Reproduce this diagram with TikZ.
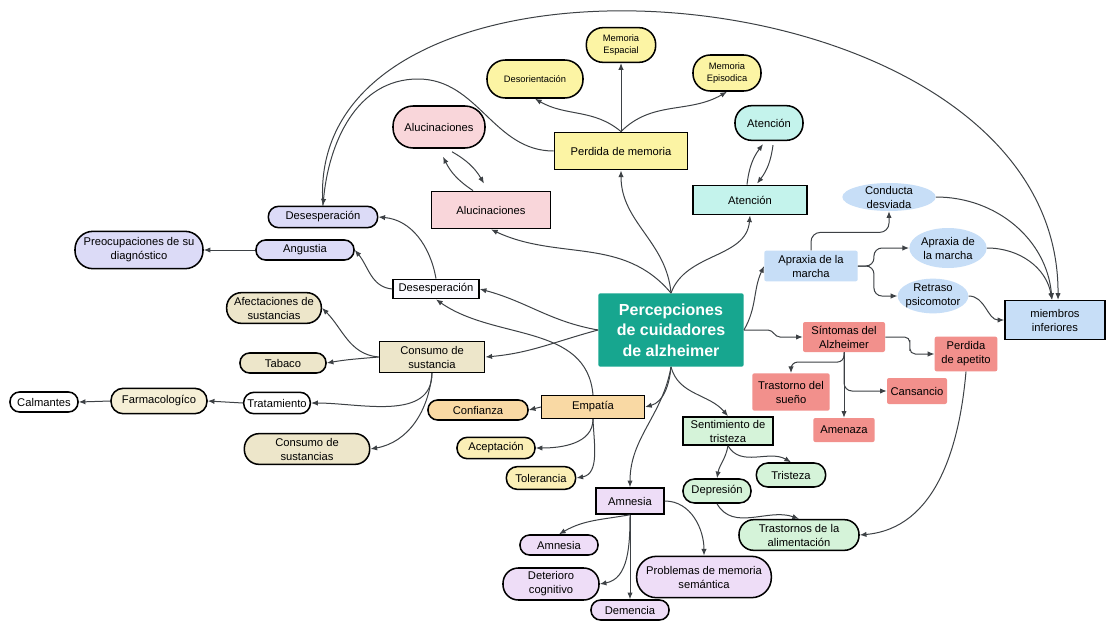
\documentclass[tikz,border=0pt]{standalone}
\usepackage{fontspec}
\setmainfont{Liberation Sans}
\usetikzlibrary{shapes.geometric, arrows.meta, calc}
\definecolor{tealc}{HTML}{17A68F}
\definecolor{yel}{HTML}{FCF4A4}
\definecolor{pnk}{HTML}{F9D6DA}
\definecolor{cyn}{HTML}{C4F3EC}
\definecolor{lav}{HTML}{DCDBF7}
\definecolor{wht}{HTML}{FAFAFF}
\definecolor{bge}{HTML}{EDE6CA}
\definecolor{crm}{HTML}{F6EFD6}
\definecolor{pch}{HTML}{F9D9A4}
\definecolor{ylt}{HTML}{FBEFB6}
\definecolor{prp}{HTML}{EEDDF7}
\definecolor{grn}{HTML}{D5F3D9}
\definecolor{rd}{HTML}{F2908C}
\definecolor{blu}{HTML}{C7DEF7}
\definecolor{edge}{HTML}{3D4145}
\newcommand\lbl{\fontsize{8.4}{10.5}\selectfont}
\newcommand\sml{\fontsize{7}{8.8}\selectfont}
\newcommand\titlefont{\fontsize{12}{15.5}\selectfont\bfseries}
\tikzset{
    pill/.style 2 args={rectangle, draw=black, line width=1.15pt, rounded corners=#2*0.48pt, minimum width=#1pt, minimum height=#2pt, inner sep=1pt, align=center, font=\lbl},
    box/.style 2 args={rectangle, draw=black, line width=1.15pt, minimum width=#1pt, minimum height=#2pt, inner sep=1pt, align=center, font=\lbl},
    flat/.style 2 args={rectangle, rounded corners=1.5pt, minimum width=#1pt, minimum height=#2pt, inner sep=1pt, align=center, font=\lbl},
    blob/.style 2 args={ellipse, fill=blu, minimum width=#1pt, minimum height=#2pt, inner xsep=-2pt, inner ysep=-3pt, align=center, font=\lbl},
    arr/.style={-{Latex[length=5pt,width=4pt]}, draw=edge, line width=0.75pt},
    link/.style={draw=edge, line width=0.75pt},
}

\begin{document}
\begin{tikzpicture}[x=0.75pt, y=0.75pt]
    \path[use as bounding box, fill=white] (0,0) rectangle (1106,-621);

    \node[flat={109}{55}, fill=tealc, text=white, font=\titlefont] (cen) at (671,-330) {Percepciones\\de cuidadores\\de alzheimer};

    \node[box={100}{28}, fill=yel] (perd) at (621,-151) {Perdida de memoria};
    \node[pill={52}{26}, fill=yel, font=\sml] (mesp) at (621,-45) {Memoria\\Espacial};
    \node[pill={72}{28.5}, fill=yel, font=\sml] (deso) at (535,-79) {Desorientación};
    \node[pill={51}{27}, fill=yel, font=\sml] (mepi) at (727,-73) {Memoria\\Episodica};

    \node[pill={69}{31.5}, fill=pnk] (aluA) at (439,-127) {Alucinaciones};
    \node[box={89}{28}, fill=pnk] (aluB) at (491,-210) {Alucinaciones};
    \node[pill={51}{26}, fill=cyn] (ateA) at (769,-123) {Atención};
    \node[box={85.5}{22}, fill=cyn] (ateB) at (750,-200) {Atención};

    \node[pill={82}{16}, fill=lav] (desA) at (323,-217) {Desesperación};
    \node[pill={73.5}{15}, fill=lav] (angu) at (305,-250) {Angustia};
    \node[pill={96}{28}, fill=lav] (preo) at (139,-250) {Preocupaciones de su\\diagnóstico};
    \node[box={64.5}{14.5}, fill=wht] (desB) at (436,-289) {Desesperación};

    \node[pill={71}{23}, fill=bge] (afec) at (274,-308) {Afectaciones de\\sustancias};
    \node[box={79}{23}, fill=bge] (cons) at (432,-357) {Consumo de\\sustancia};
    \node[pill={64.5}{15}, fill=bge] (taba) at (283,-363) {Tabaco};
    \node[pill={50}{16}, fill=white] (trat) at (277,-403) {Tratamiento};
    \node[pill={72}{19}, fill=crm] (farm) at (159,-401) {Farmacologíco};
    \node[pill={51}{15}, fill=white] (calm) at (44,-402) {Calmantes};
    \node[pill={94}{23}, fill=bge] (consB) at (307,-449) {Consumo de\\sustancias};

    \node[box={77}{17}, fill=pch] (empa) at (593,-407) {Empatía};
    \node[pill={75}{15}, fill=pch] (conf) at (478,-410) {Confianza};
    \node[pill={58.5}{16}, fill=ylt] (acep) at (496,-448) {Aceptación};
    \node[pill={52}{17}, fill=ylt] (tole) at (541,-478) {Tolerancia};

    \node[box={51}{19.5}, fill=prp] (amnA) at (630,-501) {Amnesia};
    \node[pill={58.5}{15}, fill=prp] (amnB) at (559,-545) {Amnesia};
    \node[pill={72}{24}, fill=prp] (dete) at (551,-584) {Deterioro\\cognitivo};
    \node[pill={58.5}{15}, fill=prp] (deme) at (630,-610) {Demencia};
    \node[pill={101}{31}, fill=prp] (prob) at (704,-577) {Problemas de memoria\\semántica};

    \node[box={67.5}{21}, fill=grn] (sent) at (728,-431) {Sentimiento de\\tristeza};
    \node[pill={52}{18}, fill=grn] (tris) at (791,-475) {Tristeza};
    \node[pill={51}{18}, fill=grn] (depr) at (717,-491) {Depresión};
    \node[pill={90}{23}, fill=grn] (trst) at (799,-535) {Trastornos de la\\alimentación};

    \node[flat={61.5}{22.5}, fill=rd] (sint) at (844,-337) {Síntomas del\\Alzheimer};
    \node[flat={58}{28}, fill=rd] (tsue) at (791,-392) {Trastorno del\\sueño};
    \node[flat={46}{18}, fill=rd] (amen) at (844,-430) {Amenaza};
    \node[flat={45}{19.5}, fill=rd] (cans) at (917,-391) {Cansancio};
    \node[flat={47}{26}, fill=rd] (pape) at (966,-354) {Perdida\\de apetito};

    \node[flat={70}{23}, fill=blu] (aprA) at (811,-266) {Apraxia de la\\marcha};
    \node[blob={70}{21}] (cond) at (889,-197) {Conducta\\desviada};
    \node[blob={58}{30}] (aprB) at (948,-248) {Apraxia de\\la marcha};
    \node[blob={53}{26}] (retr) at (933,-296) {Retraso\\psicomotor};
    \node[box={75}{29}, fill=blu] (miem) at (1055,-320) {miembros\\inferiores};

    \coordinate (peak) at (418,-79);

    \draw[arr] (cen.north) to[out=95,in=-90] (perd.south);
    \draw[arr] (cen.north) to[out=130,in=-25] (aluB.south);
    \draw[arr] (cen.north) to[out=70,in=-95] (ateB.south);
    \draw[arr] (cen.west) to[out=170,in=-15] (desB.east);
    \draw[arr] (cen.west) to[out=195,in=5] (cons.east);
    \draw[arr] (cen.south) to[out=-95,in=15] (empa.east);
    \draw[arr] (cen.south) to[out=-100,in=90] (amnA.north);
    \draw[arr] (cen.south) to[out=-75,in=130] (sent.north);
    \draw[arr] (cen.east) to[out=60,in=-115] (aprA.west);
    \draw[arr] (cen.east) -- ++(24,0) to[out=0,in=180] ++(12,-7) -- (sint.west);

    \draw[arr] (perd.north) -- (mesp.south);
    \draw[arr] (perd.north) to[out=140,in=-30] (deso.south);
    \draw[arr] (perd.north) to[out=45,in=-150] (mepi.south);
    \draw[arr] (perd.west) to[out=180,in=0] (peak) to[out=180,in=85] (desA.north);
    \draw[arr] (desA.north) .. controls (300,90) and (1060,40) .. ($(miem.north)+(3,0)$);

    \draw[arr] ($(aluB.north)+(-18,0)$) to[bend left=15] ($(aluA.south)+(4,-8)$);
    \draw[arr] ($(aluA.south)+(13,-3)$) to[bend left=15] ($(aluB.north)+(-7,7)$);
    \draw[arr] ($(ateB.north)+(-3,0)$) to[bend left=15] ($(ateA.south)+(-6,-3)$);
    \draw[arr] ($(ateA.south)+(4,-4)$) to[bend left=15] ($(ateB.north)+(7,1)$);

    \draw[arr] (desB.north) to[out=100,in=-5] (desA.east);
    \draw[arr] (desB.west) to[out=175,in=-50] (angu.east);
    \draw[arr] (angu.west) -- (preo.east);

    \draw[arr] (cons.west) to[out=175,in=-45] (afec.east);
    \draw[arr] (cons.west) to[out=185,in=10] (taba.east);
    \draw[arr] (cons.south) to[out=-90,in=0] (trat.east);
    \draw[arr] (cons.south) to[out=-95,in=10] (consB.east);
    \draw[arr] (trat.west) -- (farm.east);
    \draw[arr] (farm.west) -- (calm.east);

    \draw[arr] (empa.north) to[out=95,in=-35] (desB.south);
    \draw[arr] (empa.west) -- (conf.east);
    \draw[arr] (empa.south) to[out=-90,in=0] (acep.east);
    \draw[arr] (empa.south) to[out=-88,in=10] (tole.east);

    \draw[arr] (amnA.south) to[out=190,in=30] (amnB.north);
    \draw[arr] (amnA.south) -- (deme.north);
    \draw[arr] (amnA.south) to[out=-90,in=10] (dete.east);
    \draw[arr] (amnA.east) to[out=0,in=90] (prob.north);

    \draw[arr] (sent.south) to[out=-100,in=80] (depr.north);
    \draw[arr] (sent.south) to[out=-60,in=150] (tris.north);
    \draw[arr] (depr.south) to[out=-60,in=160] (trst.north);
    \draw[arr] (pape.south) to[out=-95,in=5] (trst.east);

    \draw[arr, rounded corners=4] (sint.east) -| ($(sint.east)!0.5!(pape.west)$) |- (pape.west);
    \draw[arr, rounded corners=5] (sint.south) |- ($(tsue.north)+(0,11)$) -- (tsue.north);
    \draw[arr] (sint.south) -- (amen.north);
    \draw[arr, rounded corners=6] (sint.south) |- (cans.west);

    \draw[arr, rounded corners=7] (aprA.north) -- ++(0,18) -| (cond.south);
    \draw[arr, rounded corners=6] (aprA.east) -- ++(16,0) |- (aprB.west);
    \draw[arr, rounded corners=6] (aprA.east) -- ++(16,0) |- (retr.west);
    \draw[arr] (cond.east) to[out=0,in=95] ($(miem.north)+(-3,0)$);
    \draw[arr] (aprB.east) to[out=0,in=100] ($(miem.north)+(-3,0)$);
    \draw[arr] (retr.east) to[out=0,in=180] (miem.west);
\end{tikzpicture}
\end{document}
